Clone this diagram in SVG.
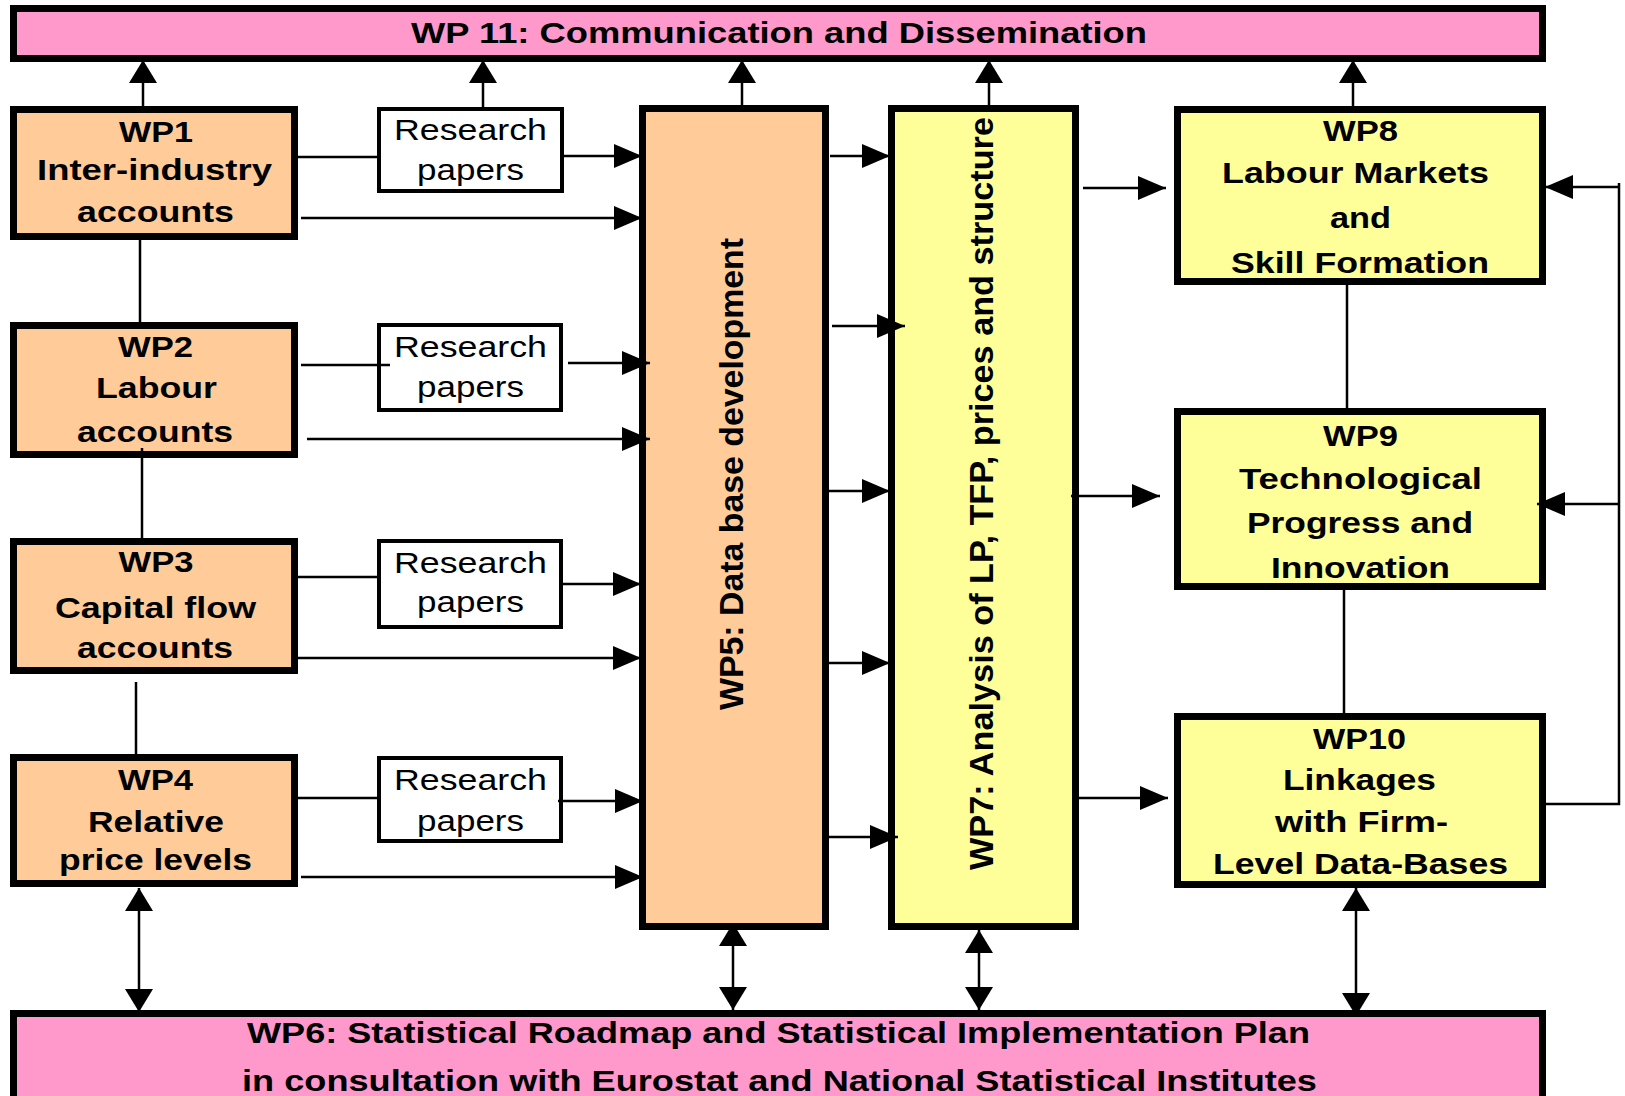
<svg xmlns="http://www.w3.org/2000/svg" width="1625" height="1096" viewBox="0 0 1625 1096">
<style>
.box{stroke:#000;stroke-width:7}
.pink{fill:#FF99CC}
.peach{fill:#FFCC99}
.yel{fill:#FFFF99}
.rp{fill:#fff;stroke:#000;stroke-width:4}
text{font-family:"Liberation Sans",Arial,sans-serif;fill:#000}
.b{font-weight:bold;font-size:30px;text-anchor:middle}
.v{font-weight:bold;font-size:33px;text-anchor:middle}
.r{font-size:30px;text-anchor:middle}
.c line,.c polyline{stroke:#000;stroke-width:2.5;fill:none}
.h{marker-end:url(#ah)}
.u{marker-end:url(#av)}
.d{marker-start:url(#av);marker-end:url(#av)}
</style>
<defs>
<marker id="ah" markerUnits="userSpaceOnUse" markerWidth="28" markerHeight="24" refX="28" refY="12" orient="auto"><path d="M0,0 L28,12 L0,24 z" fill="#000"/></marker>
<marker id="av" markerUnits="userSpaceOnUse" markerWidth="23" markerHeight="28" refX="23" refY="14" orient="auto-start-reverse"><path d="M0,0 L23,14 L0,28 z" fill="#000"/></marker>
</defs>

<g id="wp11"><rect class="box pink" x="13.5" y="8.5" width="1529" height="50"/>
<text class="b" x="779" y="43" textLength="736" lengthAdjust="spacingAndGlyphs">WP 11: Communication and Dissemination</text></g>

<g id="wp6"><rect class="box pink" x="13.5" y="1013.5" width="1529" height="120"/>
<text class="b" x="778.5" y="1043" textLength="1063" lengthAdjust="spacingAndGlyphs">WP6: Statistical Roadmap and Statistical Implementation Plan</text>
<text class="b" x="779.5" y="1091" textLength="1075" lengthAdjust="spacingAndGlyphs">in consultation with Eurostat and National Statistical Institutes</text></g>

<g id="wp1"><rect class="box peach" x="13.5" y="109.5" width="281" height="127"/>
<text class="b" x="156" y="142" textLength="74" lengthAdjust="spacingAndGlyphs">WP1</text>
<text class="b" x="154.5" y="180" textLength="235" lengthAdjust="spacingAndGlyphs">Inter-industry</text>
<text class="b" x="155.5" y="222" textLength="157" lengthAdjust="spacingAndGlyphs">accounts</text></g>

<g id="wp2"><rect class="box peach" x="13.5" y="325.5" width="281" height="129"/>
<text class="b" x="155.5" y="357" textLength="75" lengthAdjust="spacingAndGlyphs">WP2</text>
<text class="b" x="156.5" y="398" textLength="121" lengthAdjust="spacingAndGlyphs">Labour</text>
<text class="b" x="155" y="442" textLength="156" lengthAdjust="spacingAndGlyphs">accounts</text></g>

<g id="wp3"><rect class="box peach" x="13.5" y="541.5" width="281" height="129"/>
<text class="b" x="156" y="572" textLength="75" lengthAdjust="spacingAndGlyphs">WP3</text>
<text class="b" x="155.5" y="618" textLength="201" lengthAdjust="spacingAndGlyphs">Capital flow</text>
<text class="b" x="155" y="658" textLength="156" lengthAdjust="spacingAndGlyphs">accounts</text></g>

<g id="wp4"><rect class="box peach" x="13.5" y="757.5" width="281" height="126"/>
<text class="b" x="155.5" y="790" textLength="75" lengthAdjust="spacingAndGlyphs">WP4</text>
<text class="b" x="156" y="832" textLength="136" lengthAdjust="spacingAndGlyphs">Relative</text>
<text class="b" x="155.5" y="870" textLength="193" lengthAdjust="spacingAndGlyphs">price levels</text></g>

<g id="rp1"><rect class="rp" x="379" y="109" width="183" height="82"/>
<text class="r" x="470.5" y="140" textLength="153" lengthAdjust="spacingAndGlyphs">Research</text>
<text class="r" x="470.5" y="180" textLength="107" lengthAdjust="spacingAndGlyphs">papers</text></g>
<g id="rp2"><rect class="rp" x="379" y="325" width="182" height="85"/>
<text class="r" x="470.5" y="357" textLength="153" lengthAdjust="spacingAndGlyphs">Research</text>
<text class="r" x="470.5" y="397" textLength="107" lengthAdjust="spacingAndGlyphs">papers</text></g>
<g id="rp3"><rect class="rp" x="379" y="541" width="182" height="86"/>
<text class="r" x="470.5" y="573" textLength="153" lengthAdjust="spacingAndGlyphs">Research</text>
<text class="r" x="470.5" y="612" textLength="107" lengthAdjust="spacingAndGlyphs">papers</text></g>
<g id="rp4"><rect class="rp" x="379" y="758" width="182" height="83"/>
<text class="r" x="470.5" y="790" textLength="153" lengthAdjust="spacingAndGlyphs">Research</text>
<text class="r" x="470.5" y="831" textLength="107" lengthAdjust="spacingAndGlyphs">papers</text></g>

<g id="wp5"><rect class="box peach" x="642.5" y="108.5" width="183" height="818"/>
<text class="v" transform="translate(743,474) rotate(-90)" textLength="472" lengthAdjust="spacingAndGlyphs">WP5: Data base development</text></g>

<g id="wp7"><rect class="box yel" x="891.5" y="108.5" width="184" height="818"/>
<text class="v" transform="translate(993,493.5) rotate(-90)" textLength="753" lengthAdjust="spacingAndGlyphs">WP7: Analysis of LP, TFP, prices and structure</text></g>

<g id="wp8"><rect class="box yel" x="1177.5" y="109.5" width="365" height="172"/>
<text class="b" x="1360.5" y="141" textLength="75" lengthAdjust="spacingAndGlyphs">WP8</text>
<text class="b" x="1355.5" y="183" textLength="267" lengthAdjust="spacingAndGlyphs">Labour Markets</text>
<text class="b" x="1360.5" y="228" textLength="61" lengthAdjust="spacingAndGlyphs">and</text>
<text class="b" x="1360" y="273" textLength="258" lengthAdjust="spacingAndGlyphs">Skill Formation</text></g>

<g id="wp9"><rect class="box yel" x="1177.5" y="411.5" width="365" height="175"/>
<text class="b" x="1360.5" y="446" textLength="75" lengthAdjust="spacingAndGlyphs">WP9</text>
<text class="b" x="1360.5" y="489" textLength="243" lengthAdjust="spacingAndGlyphs">Technological</text>
<text class="b" x="1360" y="533" textLength="226" lengthAdjust="spacingAndGlyphs">Progress and</text>
<text class="b" x="1360.5" y="578" textLength="179" lengthAdjust="spacingAndGlyphs">Innovation</text></g>

<g id="wp10"><rect class="box yel" x="1177.5" y="716.5" width="365" height="168"/>
<text class="b" x="1359.5" y="749" textLength="93" lengthAdjust="spacingAndGlyphs">WP10</text>
<text class="b" x="1359.5" y="790" textLength="153" lengthAdjust="spacingAndGlyphs">Linkages</text>
<text class="b" x="1361.5" y="832" textLength="173" lengthAdjust="spacingAndGlyphs">with Firm-</text>
<text class="b" x="1360.5" y="874" textLength="295" lengthAdjust="spacingAndGlyphs">Level Data-Bases</text></g>

<g id="connectors" class="c">
<line class="u" x1="143" y1="106" x2="143" y2="60"/>
<line class="u" x1="483" y1="107" x2="483" y2="60"/>
<line class="u" x1="742" y1="105" x2="742" y2="60"/>
<line class="u" x1="989" y1="105" x2="989" y2="60"/>
<line class="u" x1="1353" y1="106" x2="1353" y2="60"/>

<line x1="298" y1="157" x2="379" y2="157"/>
<line class="h" x1="562" y1="156" x2="642" y2="156"/>
<line class="h" x1="301" y1="218" x2="642" y2="218"/>
<line x1="301" y1="365" x2="390" y2="365"/>
<line class="h" x1="568" y1="363" x2="650" y2="363"/>
<line class="h" x1="307" y1="439" x2="650" y2="439"/>
<line x1="298" y1="577" x2="379" y2="577"/>
<line class="h" x1="560" y1="584" x2="641" y2="584"/>
<line class="h" x1="298" y1="658" x2="641" y2="658"/>
<line x1="298" y1="798" x2="381" y2="798"/>
<line class="h" x1="558" y1="801" x2="643" y2="801"/>
<line class="h" x1="301" y1="877" x2="643" y2="877"/>

<line x1="140" y1="238" x2="140" y2="322"/>
<line x1="142" y1="448" x2="142" y2="538"/>
<line x1="136" y1="682" x2="136" y2="754"/>

<line class="d" x1="139" y1="888" x2="139" y2="1012"/>
<line class="d" x1="733" y1="923" x2="733" y2="1010"/>
<line class="d" x1="979" y1="930" x2="979" y2="1010"/>
<line class="d" x1="1356" y1="888" x2="1356" y2="1016"/>

<line class="h" x1="830" y1="156" x2="890" y2="156"/>
<line class="h" x1="832" y1="326" x2="905" y2="326"/>
<line class="h" x1="829" y1="491" x2="890" y2="491"/>
<line class="h" x1="829" y1="663" x2="890" y2="663"/>
<line class="h" x1="829" y1="837" x2="898" y2="837"/>

<line class="h" x1="1083" y1="188" x2="1166" y2="188"/>
<line class="h" x1="1071" y1="496" x2="1160" y2="496"/>
<line class="h" x1="1079" y1="798" x2="1168" y2="798"/>

<line x1="1347" y1="285" x2="1347" y2="408"/>
<line x1="1344" y1="590" x2="1344" y2="713"/>

<polyline points="1546,804 1619,804 1619,183"/>
<line class="h" x1="1619" y1="187" x2="1545" y2="187"/>
<line class="h" x1="1619" y1="504" x2="1537" y2="504"/>
</g>
</svg>
